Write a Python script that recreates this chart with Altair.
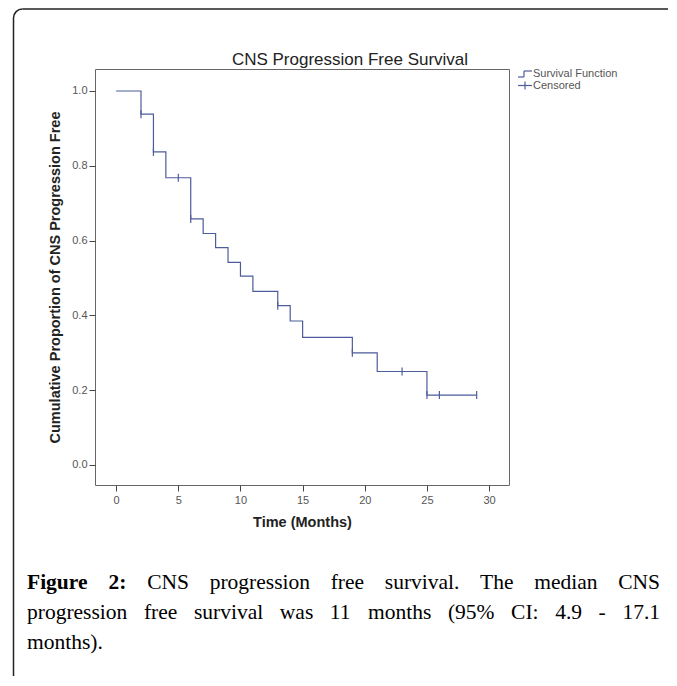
import altair as alt
import pandas as pd

# Kaplan-Meier step function (time in months, cumulative proportion)
time_steps = [0, 2, 3, 4, 6, 7, 8, 9, 10, 11, 13, 14, 15, 19, 21, 25, 29]
surv_steps = [1.0, 0.938, 0.837, 0.768, 0.658, 0.619, 0.581, 0.542, 0.505,
              0.464, 0.426, 0.385, 0.341, 0.300, 0.250, 0.187, 0.187]

# Censored observations
cens_time = [2, 3, 5, 6, 13, 19, 23, 25, 26, 29]
cens_surv = [0.938, 0.837, 0.768, 0.658, 0.426, 0.300, 0.250, 0.187, 0.187, 0.187]

x_ticks = [0, 5, 10, 15, 20, 25, 30]
y_ticks = [0.0, 0.2, 0.4, 0.6, 0.8, 1.0]

title_text = "CNS Progression Free Survival"
x_title = "Time (Months)"
y_title = "Cumulative Proportion of CNS Progression Free"
legend_labels = ["Survival Function", "Censored"]

caption_lines = [
    [("Figure", True), ("2:", True), ("CNS", False), ("progression", False),
     ("free", False), ("survival.", False), ("The", False), ("median", False),
     ("CNS", False)],
    [(w, False) for w in ["progression", "free", "survival", "was", "11", "months",
                          "(95%", "CI:", "4.9", "-", "17.1"]],
    [("months).", False)],
]

BLUE = "#4d5c9c"
SANS = "Liberation Sans"
SERIF = "Liberation Serif"

# ---- approximate Times/Liberation Serif advance widths (1/1000 em) for justification
REG = {" ": 250, "(": 333, ")": 333, "%": 833, ".": 250, ":": 278, "-": 333,
       "C": 667, "I": 333, "N": 722, "S": 556, "T": 611, "F": 556,
       "a": 444, "d": 500, "e": 444, "f": 333, "g": 500, "h": 500, "i": 278,
       "l": 278, "m": 778, "n": 500, "o": 500, "p": 500, "r": 333, "s": 389,
       "t": 278, "u": 500, "v": 500, "w": 722}
BOLD = {"F": 611, "i": 278, "g": 500, "u": 556, "r": 444, "e": 444, ":": 333}


def word_width(word, size, bold):
    total = 0
    for ch in word:
        if ch.isdigit():
            total += 500
        elif bold and ch in BOLD:
            total += BOLD[ch]
        else:
            total += REG.get(ch, 500)
    return total * size / 1000.0


CAP_SIZE = 21.5
PLOT_LEFT, PLOT_TOP = 95, 69          # page coordinates of the plot origin
CAP_LEFT, CAP_RIGHT = 27, 660
CAP_Y = [583, 613, 643]

steps = pd.DataFrame({"t": time_steps, "s": surv_steps})
cens = pd.DataFrame({"t": cens_time, "s": cens_surv})
one = pd.DataFrame({"k": [0]})

xs = alt.Scale(domain=[-1.7, 31.6], nice=False, zero=False)
ys = alt.Scale(domain=[-0.0535, 1.0588], nice=False, zero=False)

x_axis = alt.Axis(values=x_ticks, title=x_title, grid=False, domain=False,
                  tickSize=6, tickColor="#444", labelFont=SANS, labelFontSize=11,
                  labelColor="#555", labelPadding=3, titleFont=SANS,
                  titleFontSize=14.5, titleFontWeight="bold", titleColor="#222",
                  titlePadding=10)
y_axis = alt.Axis(values=y_ticks, format=".1f", title=y_title, grid=False,
                  domain=False, tickSize=6, tickColor="#444", labelFont=SANS,
                  labelFontSize=11, labelColor="#555", labelPadding=2,
                  titleFont=SANS, titleFontSize=14.5, titleFontWeight="bold",
                  titleColor="#222", titlePadding=9)

line = alt.Chart(steps).mark_line(interpolate="step-after", color=BLUE,
                                  strokeWidth=1.2).encode(
    x=alt.X("t:Q", scale=xs, axis=x_axis),
    y=alt.Y("s:Q", scale=ys, axis=y_axis),
)

cmarks = alt.Chart(cens).mark_point(shape="M0,-1L0,1", size=64, filled=False,
                                    color=BLUE, strokeWidth=1.2, opacity=1).encode(
    x=alt.X("t:Q", scale=xs),
    y=alt.Y("s:Q", scale=ys),
)

base = alt.Chart(one)


def txt(text, x, y, size, font=SANS, weight="normal", color="#222", align="left"):
    return base.mark_text(text=text, font=font, fontSize=size, fontWeight=weight,
                          color=color, align=align, baseline="middle").encode(
        x=alt.value(x), y=alt.value(y))


def seg(x1, x2, y1, y2, color=BLUE, w=1.2):
    return base.mark_rule(color=color, strokeWidth=w).encode(
        x=alt.value(x1), x2=alt.value(x2), y=alt.value(y1), y2=alt.value(y2))


title = txt(title_text, 255, -9, 17, align="center")

legend = [
    seg(423, 429, 8, 8), seg(429, 429, 8, 2), seg(429, 437, 2, 2),
    txt(legend_labels[0], 438, 4.5, 11, color="#555"),
    seg(423, 437, 16.5, 16.5), seg(430, 430, 12.5, 20.5),
    txt(legend_labels[1], 438, 16.5, 11, color="#555"),
]

# outer figure frame: left edge, top edge and a rounded top-left corner
FX, FY, FR = -81.5, -60, 9
frame = [
    seg(FX, FX, FY + FR, 607, color="#222", w=1.5),
    seg(FX + FR, 573, FY, FY, color="#222", w=1.5),
    base.mark_arc(filled=False, stroke="#222", strokeWidth=1.5).encode(
        x=alt.value(FX + FR), y=alt.value(FY + FR),
        theta=alt.value(4.7124), theta2=alt.value(6.2832),
        radius=alt.value(FR), radius2=alt.value(FR)),
]

# justified caption, one text mark per word
caption = []
for li, words in enumerate(caption_lines):
    y = CAP_Y[li] - PLOT_TOP
    widths = [word_width(w, CAP_SIZE, b) for w, b in words]
    if len(words) > 1 and li < len(caption_lines) - 1:
        gap = (CAP_RIGHT - CAP_LEFT - sum(widths)) / (len(words) - 1)
    else:
        gap = CAP_SIZE * 0.25
    xpos = CAP_LEFT
    for i, ((w, b), wd) in enumerate(zip(words, widths)):
        last = (i == len(words) - 1) and li < len(caption_lines) - 1
        if last:
            caption.append(txt(w, CAP_RIGHT - PLOT_LEFT, y, CAP_SIZE, font=SERIF,
                               weight="normal", color="#000", align="right"))
        else:
            caption.append(txt(w, xpos - PLOT_LEFT, y, CAP_SIZE, font=SERIF,
                               weight="bold" if b else "normal", color="#000"))
        xpos += wd + gap

chart = alt.layer(line, cmarks, title, *frame, *legend, *caption).properties(
    width=414, height=416,
    autosize=alt.AutoSizeParams(type="none"),
    padding={"left": 87, "top": 61, "right": 160, "bottom": 191},
    background="white",
).configure_view(stroke="#666", strokeWidth=1)

chart.save("out.html", embed_options={"renderer": "svg", "actions": False})
